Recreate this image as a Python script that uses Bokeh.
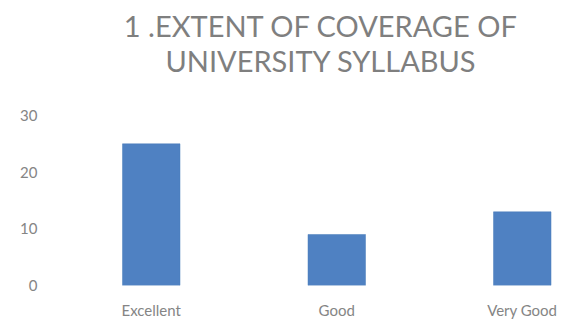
from bokeh.plotting import figure
from bokeh.models import FixedTicker, Label, Range1d, ColumnDataSource
from bokeh.embed import file_html
from bokeh.resources import INLINE

categories = ["Excellent", "Good", "Very Good"]
values = [25, 9, 13]
y_ticks = [0, 10, 20, 30]
title_lines = ["1 .EXTENT OF COVERAGE OF", "UNIVERSITY SYLLABUS"]

xs = list(range(len(categories)))
src = ColumnDataSource(dict(x=xs, top=values, cat=categories))

p = figure(width=570, height=324, output_backend="svg", toolbar_location=None,
           x_range=Range1d(-0.5, 2.26), y_range=Range1d(0, 50.29),
           min_border_left=58, min_border_right=0, min_border_top=0, min_border_bottom=39)
p.title.visible = False
p.vbar(x="x", top="top", bottom=0, width=0.31, source=src,
       fill_color="#4f81c2", line_color="#4a7cba", line_width=0.5)

p.background_fill_color = "white"
p.border_fill_color = "white"
p.outline_line_color = None
p.grid.visible = False

for ax in (p.xaxis[0], p.yaxis[0]):
    ax.axis_line_color = None
    ax.major_tick_line_color = None
    ax.minor_tick_line_color = None
    ax.major_label_text_font = "Lato"
    ax.major_label_text_font_size = "15px"
    ax.major_label_text_color = "#858585"

p.yaxis[0].ticker = FixedTicker(ticks=y_ticks)
p.yaxis[0].major_label_standoff = 15
p.xaxis[0].ticker = FixedTicker(ticks=xs)
p.xaxis[0].major_label_overrides = {i: c for i, c in zip(xs, categories)}
p.xaxis[0].major_label_standoff = 9

for line, yv in zip(title_lines, [45.9, 39.79]):
    p.add_layout(Label(x=0.9156, y=yv, text=line, text_align="center", text_baseline="middle",
                       text_font="Lato", text_font_size="29px", text_color="#7f7f7f"))

open("out.html", "w").write(file_html(p, INLINE))
